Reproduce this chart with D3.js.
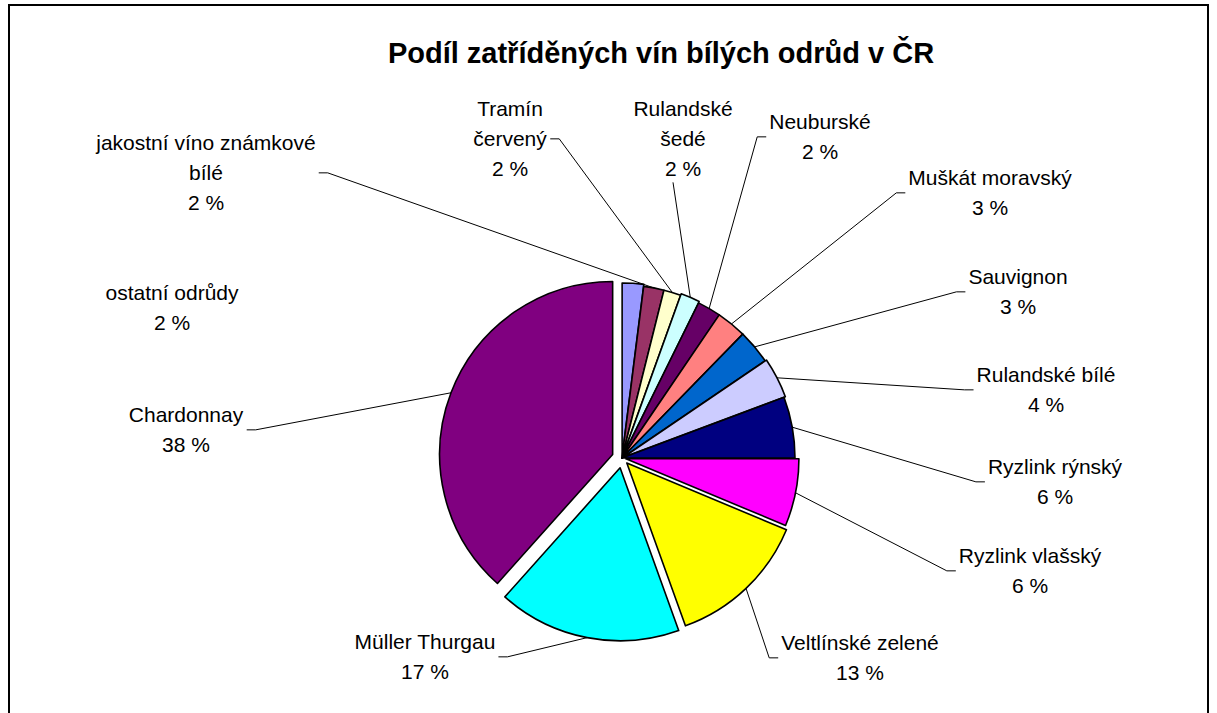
<!DOCTYPE html>
<html>
<head>
<meta charset="utf-8">
<script src="https://cdn.jsdelivr.net/npm/d3@7"></script>
<style>
  body { margin: 0; background: #fff; }
  text { font-family: "Liberation Sans", Arial, sans-serif; fill: #000; }
</style>
</head>
<body>
<svg width="1217" height="713"></svg>
<script>
// data, clockwise from 12 o'clock (Excel order)
const categories = ['ostatní odrůdy', 'jakostní víno známkové bílé', 'Tramín červený',
  'Rulandské šedé', 'Neuburské', 'Muškát moravský', 'Sauvignon', 'Rulandské bílé',
  'Ryzlink rýnský', 'Ryzlink vlašský', 'Veltlínské zelené', 'Müller Thurgau', 'Chardonnay'];
const shares = [2.0, 1.9, 1.6, 1.8, 2.2, 2.8, 3.2, 3.8, 5.7, 6.3, 13.2, 17.1, 38.4];
const palette = ['#9999FF', '#993366', '#FFFFCC', '#CCFFFF', '#660066', '#FF8080', '#0066CC',
  '#CCCCFF', '#000080', '#FF00FF', '#FFFF00', '#00FFFF', '#800080'];
const title = 'Podíl zatříděných vín bílých odrůd v ČR';

(function() {
  let svg = d3.select('svg'),
      width = +svg.attr('width'),
      height = +svg.attr('height');

  let cx = 622, cy = 458, R = 173;
  let lineH = 30;

  // label placement (offset of label block centre from pie centre),
  // word break and slice explosion, as dragged in the original
  let layout = {
    'ostatní odrůdy':              { dx: -450, dy: -150, exp: 2, leader: false },
    'jakostní víno známkové bílé': { dx: -416, dy: -285, br: 3, exp: 0 },
    'Tramín červený':              { dx: -112, dy: -319, br: 1, exp: 0 },
    'Rulandské šedé':              { dx: 61,   dy: -319, br: 1, exp: 1.5 },
    'Neuburské':                   { dx: 198,  dy: -321, exp: 0 },
    'Muškát moravský':             { dx: 368,  dy: -265, exp: 0 },
    'Sauvignon':                   { dx: 396,  dy: -166, exp: 0 },
    'Rulandské bílé':              { dx: 424,  dy: -68,  exp: 1.5 },
    'Ryzlink rýnský':              { dx: 433,  dy: 24,   exp: 0 },
    'Ryzlink vlašský':             { dx: 408,  dy: 113,  exp: 4 },
    'Veltlínské zelené':           { dx: 238,  dy: 200,  exp: 7 },
    'Müller Thurgau':              { dx: -197, dy: 199,  exp: 10 },
    'Chardonnay':                  { dx: -436, dy: -28,  exp: 10 }
  };

  let color = d3.scaleOrdinal().domain(categories).range(palette);
  let total = d3.sum(shares);

  let rows = categories.map(function(c, i) {
    return { name: c, value: shares[i] };
  });

  let pie = d3.pie()
    .sort(null)
    .value(function(d) { return d.value; })
    .startAngle(0)
    .endAngle(2 * Math.PI);

  let arc = d3.arc().innerRadius(0).outerRadius(R);

  let arcs = pie(rows);

  function offset(d) {
    let m = (d.startAngle + d.endAngle) / 2;
    let e = layout[d.data.name].exp;
    return [e * Math.sin(m), -e * Math.cos(m)];
  }

  // chart border
  svg.append('rect')
    .attr('x', 9).attr('y', 5)
    .attr('width', width - 18).attr('height', height + 20)
    .attr('fill', 'none')
    .attr('stroke', '#000')
    .attr('stroke-width', 2);

  svg.append('text')
    .attr('x', 661).attr('y', 63)
    .attr('text-anchor', 'middle')
    .attr('font-size', 29)
    .attr('font-weight', 'bold')
    .text(title);

  let pieG = svg.append('g')
    .attr('transform', 'translate(' + cx + ',' + cy + ')');

  pieG.selectAll('path')
    .data(arcs)
    .enter().append('path')
    .attr('d', arc)
    .attr('transform', function(d) {
      let o = offset(d);
      return 'translate(' + o[0] + ',' + o[1] + ')';
    })
    .attr('fill', function(d) { return color(d.data.name); })
    .attr('stroke', '#000')
    .attr('stroke-width', 1.6)
    .attr('stroke-linejoin', 'round');

  let labelG = svg.append('g');
  let leaderG = svg.append('g');

  arcs.forEach(function(d) {
    let L = layout[d.data.name];
    let words = d.data.name.split(' ');
    let lines = L.br ? [words.slice(0, L.br).join(' '), words.slice(L.br).join(' ')] : [d.data.name];
    lines = lines.filter(function(s) { return s.length; });
    lines.push(Math.round(d.value / total * 100) + ' %');

    let x = cx + L.dx, y0 = cy + L.dy - (lines.length - 1) * lineH / 2;
    let t = labelG.append('text')
      .attr('text-anchor', 'middle')
      .attr('font-size', 21);
    t.selectAll('tspan')
      .data(lines)
      .enter().append('tspan')
      .attr('x', x)
      .attr('y', function(s, i) { return y0 + i * lineH; })
      .attr('dy', '0.35em')
      .text(function(s) { return s; });

    if (L.leader === false) return;

    let m = (d.startAngle + d.endAngle) / 2;
    let o = offset(d);
    let px = cx + o[0] + R * Math.sin(m),
        py = cy + o[1] - R * Math.cos(m);
    let b = t.node().getBBox();
    let pts;
    if (px < b.x) {
      let sy = b.y + b.height / 2;
      pts = [[b.x - 3, sy], [b.x - 12, sy], [px, py]];
    } else if (px > b.x + b.width) {
      let sy = b.y + b.height / 2;
      pts = [[b.x + b.width + 3, sy], [b.x + b.width + 12, sy], [px, py]];
    } else {
      pts = [[b.x + b.width / 2 - 10, b.y + b.height + 2], [px, py]];
    }
    leaderG.append('path')
      .attr('d', d3.line()(pts))
      .attr('fill', 'none')
      .attr('stroke', '#000')
      .attr('stroke-width', 1);
  });
})();
</script>
</body>
</html>
